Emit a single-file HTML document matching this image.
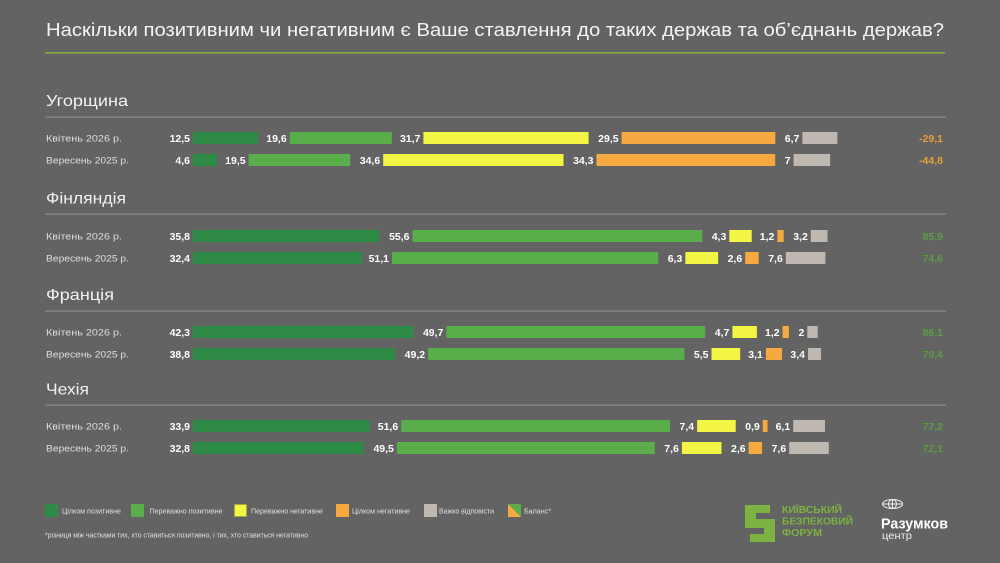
<!DOCTYPE html>
<html><head><meta charset="utf-8"><style>
html,body{margin:0;padding:0;background:#636363;}
svg{display:block;}
text{font-family:"Liberation Sans","DejaVu Sans",sans-serif;}
.v{font-size:10.5px;font-weight:bold;fill:#ffffff;text-anchor:end;}
.p{font-size:9.6px;fill:#dedede;}
.h{font-size:16px;fill:#f2f2f2;}
.bo{font-size:10.5px;font-weight:bold;fill:#e9a03c;text-anchor:end;}
.bg{font-size:10.5px;font-weight:bold;fill:#5a9c43;text-anchor:end;}
.lg{font-size:7px;fill:#e0e0e0;}
</style></head><body>
<svg width="1000" height="563" viewBox="0 0 1000 563" xmlns="http://www.w3.org/2000/svg">
<rect x="0" y="0" width="1000" height="563" fill="#636363"/>
<text x="46" y="36" font-size="18" fill="#f5f5f5" textLength="898" lengthAdjust="spacingAndGlyphs">Наскільки позитивним чи негативним є Ваше ставлення до таких держав та об’єднань держав?</text>
<rect x="45" y="52" width="900" height="1.6" fill="#86ad3c"/>

<!-- Hungary -->
<text class="h" x="46" y="106" textLength="82" lengthAdjust="spacingAndGlyphs">Угорщина</text>
<rect x="45" y="116.5" width="901" height="1.2" fill="#8e8e8e"/>
<text class="p" x="46" y="141.5" textLength="76" lengthAdjust="spacingAndGlyphs">Квітень  2026 р.</text>
<text class="p" x="46" y="163.5" textLength="83" lengthAdjust="spacingAndGlyphs">Вересень 2025 р.</text>
<g>
<rect x="193" y="132" width="65.1" height="12" fill="#2e8b45"/><text class="v" x="190" y="141.8">12,5</text>
<rect x="289.7" y="132" width="102.1" height="12" fill="#5aad4b"/><text class="v" x="286.7" y="141.8">19,6</text>
<rect x="423.4" y="132" width="165.2" height="12" fill="#f3f544"/><text class="v" x="420.4" y="141.8">31,7</text>
<rect x="621.6" y="132" width="153.7" height="12" fill="#f7a941"/><text class="v" x="618.6" y="141.8">29,5</text>
<rect x="802.4" y="132" width="34.9" height="12" fill="#bfb8b0"/><text class="v" x="799.4" y="141.8">6,7</text>
<text class="bo" x="943" y="141.8">-29,1</text>
</g>
<g>
<rect x="193" y="154" width="24" height="12" fill="#2e8b45"/><text class="v" x="190" y="163.8">4,6</text>
<rect x="248.6" y="154" width="101.6" height="12" fill="#5aad4b"/><text class="v" x="245.6" y="163.8">19,5</text>
<rect x="383.2" y="154" width="180.3" height="12" fill="#f3f544"/><text class="v" x="380.2" y="163.8">34,6</text>
<rect x="596.5" y="154" width="178.7" height="12" fill="#f7a941"/><text class="v" x="593.5" y="163.8">34,3</text>
<rect x="793.6" y="154" width="36.5" height="12" fill="#bfb8b0"/><text class="v" x="790.6" y="163.8">7</text>
<text class="bo" x="943" y="163.8">-44,8</text>
</g>

<!-- Finland -->
<text class="h" x="46" y="203.3" textLength="80" lengthAdjust="spacingAndGlyphs">Фінляндія</text>
<rect x="45" y="213.5" width="901" height="1.2" fill="#8e8e8e"/>
<text class="p" x="46" y="239.5" textLength="76" lengthAdjust="spacingAndGlyphs">Квітень  2026 р.</text>
<text class="p" x="46" y="261.5" textLength="83" lengthAdjust="spacingAndGlyphs">Вересень 2025 р.</text>
<g>
<rect x="193" y="230" width="186.5" height="12" fill="#2e8b45"/><text class="v" x="190" y="239.8">35,8</text>
<rect x="412.5" y="230" width="289.7" height="12" fill="#5aad4b"/><text class="v" x="409.5" y="239.8">55,6</text>
<rect x="729.3" y="230" width="22.4" height="12" fill="#f3f544"/><text class="v" x="726.3" y="239.8">4,3</text>
<rect x="777.4" y="230" width="6.3" height="12" fill="#f7a941"/><text class="v" x="774.4" y="239.8">1,2</text>
<rect x="810.8" y="230" width="16.7" height="12" fill="#bfb8b0"/><text class="v" x="807.8" y="239.8">3,2</text>
<text class="bg" x="943" y="239.8">85,9</text>
</g>
<g>
<rect x="193" y="252" width="168.8" height="12" fill="#2e8b45"/><text class="v" x="190" y="261.8">32,4</text>
<rect x="392" y="252" width="266.2" height="12" fill="#5aad4b"/><text class="v" x="389" y="261.8">51,1</text>
<rect x="685.3" y="252" width="32.8" height="12" fill="#f3f544"/><text class="v" x="682.3" y="261.8">6,3</text>
<rect x="745.2" y="252" width="13.5" height="12" fill="#f7a941"/><text class="v" x="742.2" y="261.8">2,6</text>
<rect x="785.8" y="252" width="39.6" height="12" fill="#bfb8b0"/><text class="v" x="782.8" y="261.8">7,6</text>
<text class="bg" x="943" y="261.8">74,6</text>
</g>

<!-- France -->
<text class="h" x="46" y="300" textLength="68" lengthAdjust="spacingAndGlyphs">Франція</text>
<rect x="45" y="310.5" width="901" height="1.2" fill="#8e8e8e"/>
<text class="p" x="46" y="335.5" textLength="76" lengthAdjust="spacingAndGlyphs">Квітень  2026 р.</text>
<text class="p" x="46" y="357.5" textLength="83" lengthAdjust="spacingAndGlyphs">Вересень 2025 р.</text>
<g>
<rect x="193" y="326" width="220.4" height="12" fill="#2e8b45"/><text class="v" x="190" y="335.8">42,3</text>
<rect x="446.4" y="326" width="258.9" height="12" fill="#5aad4b"/><text class="v" x="443.4" y="335.8">49,7</text>
<rect x="732.4" y="326" width="24.5" height="12" fill="#f3f544"/><text class="v" x="729.4" y="335.8">4,7</text>
<rect x="782.6" y="326" width="6.3" height="12" fill="#f7a941"/><text class="v" x="779.6" y="335.8">1,2</text>
<rect x="807.3" y="326" width="10.4" height="12" fill="#bfb8b0"/><text class="v" x="804.3" y="335.8">2</text>
<text class="bg" x="943" y="335.8">86,1</text>
</g>
<g>
<rect x="193" y="348" width="202.1" height="12" fill="#2e8b45"/><text class="v" x="190" y="357.8">38,8</text>
<rect x="428.1" y="348" width="256.3" height="12" fill="#5aad4b"/><text class="v" x="425.1" y="357.8">49,2</text>
<rect x="711.5" y="348" width="28.7" height="12" fill="#f3f544"/><text class="v" x="708.5" y="357.8">5,5</text>
<rect x="765.9" y="348" width="16.2" height="12" fill="#f7a941"/><text class="v" x="762.9" y="357.8">3,1</text>
<rect x="808" y="348" width="13" height="12" fill="#bfb8b0"/><text class="v" x="805" y="357.8">3,4</text>
<text class="bg" x="943" y="357.8">79,4</text>
</g>

<!-- Czechia -->
<text class="h" x="46" y="394.3" textLength="43" lengthAdjust="spacingAndGlyphs">Чехія</text>
<rect x="45" y="404.5" width="901" height="1.2" fill="#8e8e8e"/>
<text class="p" x="46" y="429.5" textLength="76" lengthAdjust="spacingAndGlyphs">Квітень  2026 р.</text>
<text class="p" x="46" y="451.5" textLength="83" lengthAdjust="spacingAndGlyphs">Вересень 2025 р.</text>
<g>
<rect x="193" y="420" width="176.6" height="12" fill="#2e8b45"/><text class="v" x="190" y="429.8">33,9</text>
<rect x="401.2" y="420" width="268.8" height="12" fill="#5aad4b"/><text class="v" x="398.2" y="429.8">51,6</text>
<rect x="697.1" y="420" width="38.6" height="12" fill="#f3f544"/><text class="v" x="694.1" y="429.8">7,4</text>
<rect x="762.8" y="420" width="4.7" height="12" fill="#f7a941"/><text class="v" x="759.8" y="429.8">0,9</text>
<rect x="793.2" y="420" width="31.8" height="12" fill="#bfb8b0"/><text class="v" x="790.2" y="429.8">6,1</text>
<text class="bg" x="943" y="429.8">77,2</text>
</g>
<g>
<rect x="193" y="442" width="170.9" height="12" fill="#2e8b45"/><text class="v" x="190" y="451.8">32,8</text>
<rect x="396.9" y="442" width="257.9" height="12" fill="#5aad4b"/><text class="v" x="393.9" y="451.8">49,5</text>
<rect x="681.9" y="442" width="39.6" height="12" fill="#f3f544"/><text class="v" x="678.9" y="451.8">7,6</text>
<rect x="748.6" y="442" width="13.5" height="12" fill="#f7a941"/><text class="v" x="745.6" y="451.8">2,6</text>
<rect x="789.2" y="442" width="39.6" height="12" fill="#bfb8b0"/><text class="v" x="786.2" y="451.8">7,6</text>
<text class="bg" x="943" y="451.8">72,1</text>
</g>

<!-- Legend -->
<rect x="45" y="504" width="13" height="13" fill="#2e8b45"/>
<text class="lg" x="62" y="513.5" textLength="59" lengthAdjust="spacingAndGlyphs">Цілком позитивне</text>
<rect x="131" y="504" width="13" height="13" fill="#5aad4b"/>
<text class="lg" x="149.5" y="513.5" textLength="73" lengthAdjust="spacingAndGlyphs">Переважно позитивне</text>
<rect x="234.5" y="504.5" width="12" height="12" fill="#f3f544" stroke="#a8a83a" stroke-width="1"/>
<text class="lg" x="251" y="513.5" textLength="72" lengthAdjust="spacingAndGlyphs">Переважно негативне</text>
<rect x="336" y="504" width="13" height="13" fill="#f7a941"/>
<text class="lg" x="352" y="513.5" textLength="58" lengthAdjust="spacingAndGlyphs">Цілком негативне</text>
<rect x="424" y="504" width="13" height="13" fill="#bfb8b0"/>
<text class="lg" x="439" y="513.5" textLength="55" lengthAdjust="spacingAndGlyphs">Важко відповісти</text>
<polygon points="508,504 521,504 521,517" fill="#5aad4b"/>
<polygon points="508,504 521,517 508,517" fill="#f7a941"/>
<text class="lg" x="524" y="513.5" textLength="27" lengthAdjust="spacingAndGlyphs">Баланс*</text>
<text class="lg" x="45" y="537.5" textLength="263" lengthAdjust="spacingAndGlyphs">*різниця між частками тих, хто ставиться позитивно, і тих, хто ставиться негативно</text>

<!-- Kyiv Security Forum logo -->
<path d="M745,505 H770 V513 H756 V519 H775 V542 H750 V534 H764 V528 H745 Z" fill="#7cb342"/>
<text x="782" y="513" font-size="10" font-weight="bold" fill="#7cb342" textLength="60" lengthAdjust="spacingAndGlyphs">КИЇВСЬКИЙ</text>
<text x="782" y="524.5" font-size="10" font-weight="bold" fill="#7cb342" textLength="71" lengthAdjust="spacingAndGlyphs">БЕЗПЕКОВИЙ</text>
<text x="782" y="536" font-size="10" font-weight="bold" fill="#7cb342" textLength="40" lengthAdjust="spacingAndGlyphs">ФОРУМ</text>

<!-- Razumkov logo -->
<g fill="none" stroke="#f2f2f2" stroke-width="1">
<ellipse cx="892.5" cy="504" rx="10" ry="4.5"/>
<ellipse cx="892.5" cy="504" rx="4" ry="4.5"/>
<line x1="892.5" y1="499.5" x2="892.5" y2="508.5"/>
<line x1="882.5" y1="504" x2="902.5" y2="504"/>
</g>
<text x="881" y="528.5" font-size="14.5" font-weight="bold" fill="#ffffff" textLength="67" lengthAdjust="spacingAndGlyphs">Разумков</text>
<text x="882" y="539" font-size="10" fill="#f0f0f0" textLength="30" lengthAdjust="spacingAndGlyphs">центр</text>
</svg>
</body></html>
